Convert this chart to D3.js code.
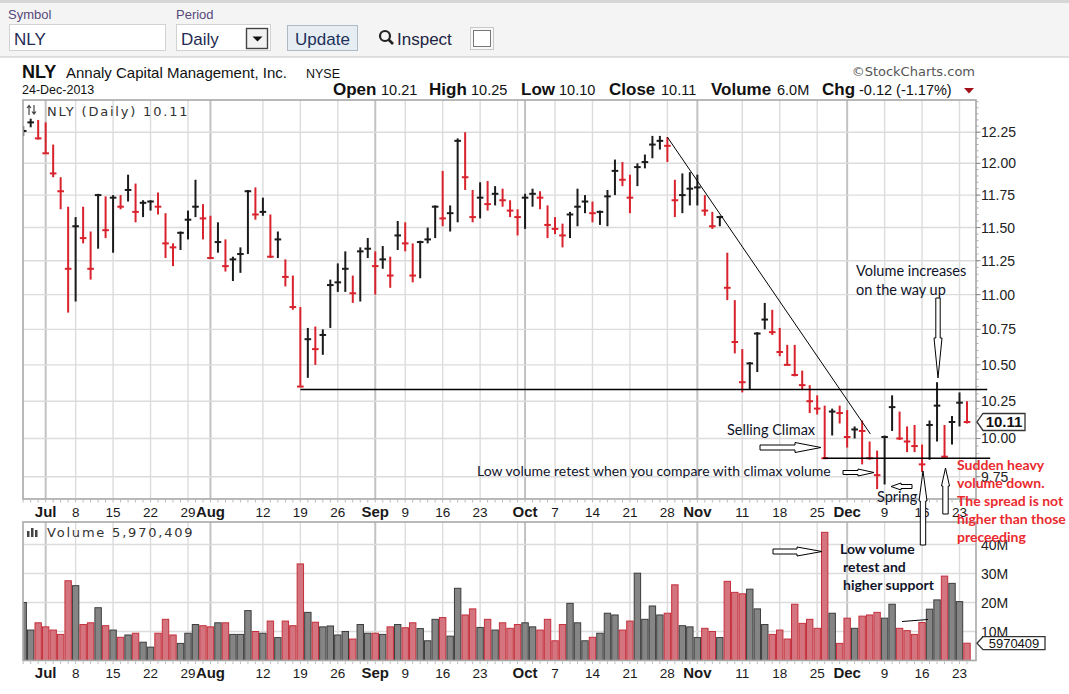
<!DOCTYPE html>
<html>
<head>
<meta charset="utf-8">
<script src="https://cdn.jsdelivr.net/npm/d3@7"></script>
<style>
  body { margin: 0; background: #fff; }
  svg { display: block; }
</style>
</head>
<body>
<svg id="chart"></svg>
<script>
// NLY daily, 26-Jun-2013 .. 24-Dec-2013 (index 0 = 26-Jun)
var highs = [12.30,
  12.36, 12.35, 12.33, 12.15, 11.89, 11.66, 11.58, 11.66, 11.47, 11.76,
  11.74, 11.75, 11.75, 11.91, 11.84, 11.71, 11.71, 11.77, 11.61, 11.38,
  11.47, 11.63, 11.87, 11.68, 11.59, 11.54, 11.41, 11.28, 11.35, 11.79,
  11.81, 11.73, 11.60, 11.47, 11.26, 11.14, 10.91, 10.76, 10.77, 10.75,
  11.11, 11.23, 11.32, 11.14, 11.35, 11.42, 11.32, 11.36, 11.28, 11.55,
  11.54, 11.38, 11.40, 11.50, 11.67, 11.94, 11.67, 12.20, 12.25, 11.79,
  11.85, 11.86, 11.82, 11.80, 11.71, 11.64, 11.76, 11.80, 11.78, 11.67,
  11.58, 11.53, 11.62, 11.80, 11.75, 11.70, 11.63, 11.79, 12.03, 12.01,
  11.91, 12.00, 12.07, 12.22, 12.22, 12.21, 11.87, 11.92, 11.93, 11.91,
  11.75, 11.62, 11.59, 11.31, 10.96, 10.61, 10.52, 10.73, 10.94, 10.89,
  10.76, 10.64, 10.64, 10.46, 10.36, 10.29, 10.22, 10.20, 10.22, 10.19,
  10.08, 10.12, 9.98, 9.92, 10.02, 10.29, 10.18, 10.08, 10.09, 9.96,
  10.12, 10.38, 10.09, 10.15, 10.31, 10.25];

var lows = [12.22,
  12.29, 12.19, 12.08, 11.89, 11.64, 10.87, 10.95, 11.38, 11.11, 11.34,
  11.42, 11.31, 11.64, 11.70, 11.54, 11.58, 11.63, 11.60, 11.27, 11.21,
  11.33, 11.41, 11.58, 11.41, 11.27, 11.31, 11.17, 11.10, 11.16, 11.30,
  11.56, 11.59, 11.27, 11.27, 11.06, 10.89, 10.35, 10.41, 10.50, 10.57,
  10.76, 11.02, 11.02, 10.94, 10.95, 11.27, 11.00, 11.19, 11.05, 11.33,
  11.32, 11.09, 11.12, 11.38, 11.42, 11.51, 11.47, 11.54, 11.79, 11.54,
  11.57, 11.63, 11.67, 11.66, 11.58, 11.44, 11.49, 11.66, 11.64, 11.42,
  11.45, 11.35, 11.42, 11.51, 11.61, 11.54, 11.52, 11.51, 11.75, 11.82,
  11.61, 11.82, 11.96, 12.04, 12.11, 12.01, 11.58, 11.61, 11.67, 11.67,
  11.59, 11.49, 11.51, 10.96, 10.58, 10.31, 10.33, 10.45, 10.75, 10.71,
  10.56, 10.50, 10.42, 10.33, 10.17, 10.16, 9.87, 10.02, 10.10, 9.94,
  10.00, 9.83, 9.86, 9.67, 9.70, 10.05, 9.99, 9.91, 9.91, 9.78,
  9.86, 9.98, 9.87, 9.96, 10.08, 10.10];

var closes = [12.26,
  12.33, 12.20, 12.08, 11.92, 11.78, 11.19, 11.51, 11.42, 11.19, 11.75,
  11.48, 11.73, 11.66, 11.79, 11.62, 11.69, 11.70, 11.66, 11.38, 11.35,
  11.46, 11.56, 11.66, 11.57, 11.27, 11.39, 11.21, 11.26, 11.30, 11.78,
  11.60, 11.62, 11.28, 11.41, 11.13, 10.91, 10.35, 10.68, 10.61, 10.71,
  11.07, 11.09, 11.19, 11.01, 11.32, 11.34, 11.21, 11.26, 11.14, 11.44,
  11.38, 11.14, 11.39, 11.41, 11.66, 11.57, 11.61, 12.18, 11.89, 11.58,
  11.73, 11.68, 11.76, 11.71, 11.63, 11.58, 11.73, 11.76, 11.73, 11.52,
  11.49, 11.44, 11.60, 11.66, 11.70, 11.61, 11.62, 11.74, 11.94, 11.87,
  11.73, 11.97, 12.01, 12.15, 12.18, 12.14, 11.71, 11.75, 11.80, 11.81,
  11.63, 11.51, 11.58, 11.05, 10.66, 10.38, 10.51, 10.72, 10.82, 10.73,
  10.59, 10.50, 10.43, 10.36, 10.25, 10.20, 9.87, 10.18, 10.17, 10.01,
  10.06, 10.05, 9.87, 9.76, 10.01, 10.21, 10.00, 9.98, 9.95, 9.83,
  10.09, 10.22, 9.88, 10.11, 10.24, 10.11];

// volume in millions of shares
var volumes = [20.0,
  10.5, 13.0, 11.6, 10.5, 9.0, 27.5, 25.8, 12.4, 13.0, 18.2,
  12.0, 10.5, 8.0, 8.8, 9.4, 6.3, 4.6, 9.4, 14.2, 8.8,
  5.9, 9.4, 12.4, 12.0, 11.6, 13.0, 13.0, 9.0, 9.0, 17.2,
  10.0, 9.4, 13.6, 7.9, 13.6, 12.0, 33.3, 16.6, 13.2, 11.6,
  11.9, 8.8, 10.0, 7.4, 12.4, 9.4, 9.4, 9.0, 11.6, 12.4,
  11.3, 13.0, 11.0, 6.8, 14.2, 14.8, 8.4, 24.9, 15.7, 17.8,
  11.4, 14.2, 10.5, 13.0, 11.1, 12.4, 13.0, 11.6, 10.5, 14.2,
  6.8, 12.4, 19.7, 13.0, 6.8, 8.0, 9.4, 16.3, 15.7, 10.5,
  13.6, 30.1, 14.2, 18.8, 15.7, 16.3, 26.1, 12.0, 11.6, 7.9,
  11.1, 10.0, 7.9, 27.3, 23.5, 23.0, 24.6, 17.8, 12.4, 9.0,
  10.5, 7.4, 19.4, 12.8, 14.2, 11.1, 44.2, 16.3, 5.9, 14.6,
  11.1, 15.3, 15.7, 16.6, 14.6, 19.4, 11.1, 10.3, 9.0, 13.1,
  17.7, 20.9, 29.1, 26.6, 20.3, 5.97];

// date axis: bar index of each labelled gridline
var tickIdx = [3, 7, 12, 17, 22, 25, 32, 37, 42, 47, 51, 56, 61, 67, 71, 76, 81, 86, 90, 96, 101, 106, 110, 115, 120, 125];
var tickLabels = ["Jul", "8", "15", "22", "29", "Aug", "12", "19", "26", "Sep", "9", "16", "23", "Oct", "7", "14", "21", "28", "Nov", "11", "18", "25", "Dec", "9", "16", "23"];
var extraGridIdx = [66];

var priceTicks = [9.75, 10.00, 10.25, 10.50, 10.75, 11.00, 11.25, 11.50, 11.75, 12.00, 12.25];
var volumeTicks = [10, 20, 30, 40];

var W = 1069, H = 694;
var left = 23, right = 976;
var pTop = 100, pBottom = 499;
var vTop = 522, vBottom = 660.5;

var RED = "#d8222c", BLACK = "#1b1b1b";

var svg = d3.select("#chart").attr("width", W).attr("height", H)
    .style("font-family", "'Liberation Sans', Arial, sans-serif");

var x = d3.scaleLinear().domain([0, 126]).range([23.2, 967]);
var y = d3.scaleLog().domain([9.75, 12.25]).range([476.7, 132.2]);
var yv = d3.scaleLinear().domain([0, 40]).range([vBottom, 544.5]);

function isDown(i) {
    return i > 0 && closes[i] < closes[i - 1];
}

// ---------- toolbar ----------
svg.append("rect").attr("x", 0).attr("y", 0).attr("width", W).attr("height", 57).attr("fill", "#f4f4f4");
svg.append("rect").attr("x", 0).attr("y", 0).attr("width", W).attr("height", 3).attr("fill", "#d6d6d6");
svg.append("line").attr("x1", 0).attr("x2", W).attr("y1", 57).attr("y2", 57).attr("stroke", "#c4c4c4");

svg.append("text").attr("x", 8).attr("y", 19).attr("font-size", 13).attr("fill", "#56487a").text("Symbol");
svg.append("text").attr("x", 176).attr("y", 19).attr("font-size", 13).attr("fill", "#56487a").text("Period");

svg.append("rect").attr("x", 9.5).attr("y", 24.5).attr("width", 156).attr("height", 26)
    .attr("fill", "#fff").attr("stroke", "#d2d2d2");
svg.append("text").attr("x", 14).attr("y", 45).attr("font-size", 17).attr("fill", "#252a55").text("NLY");

svg.append("rect").attr("x", 176.5).attr("y", 24.5).attr("width", 94).attr("height", 26)
    .attr("fill", "#fff").attr("stroke", "#d2d2d2");
svg.append("text").attr("x", 181).attr("y", 45).attr("font-size", 17).attr("fill", "#252a55").text("Daily");
svg.append("rect").attr("x", 246.5).attr("y", 28.5).attr("width", 21).attr("height", 20)
    .attr("fill", "#f2f2f2").attr("stroke", "#444").attr("stroke-width", 1.4);
svg.append("path").attr("d", "M252.5,36.5 L262.5,36.5 L257.5,41.5 Z").attr("fill", "#111");

svg.append("rect").attr("x", 287.5).attr("y", 25.5).attr("width", 70).attr("height", 25)
    .attr("fill", "#e7eef3").attr("stroke", "#aebbc6");
svg.append("text").attr("x", 322.5).attr("y", 45).attr("text-anchor", "middle").attr("font-size", 17)
    .attr("fill", "#20305a").text("Update");

svg.append("circle").attr("cx", 385).attr("cy", 36).attr("r", 5).attr("fill", "none")
    .attr("stroke", "#222").attr("stroke-width", 2.2);
svg.append("line").attr("x1", 388.5).attr("y1", 39.5).attr("x2", 393).attr("y2", 44)
    .attr("stroke", "#222").attr("stroke-width", 2.6);
svg.append("text").attr("x", 397).attr("y", 45).attr("font-size", 17).attr("fill", "#20253f").text("Inspect");
svg.append("rect").attr("x", 470.5).attr("y", 27.5).attr("width", 23).attr("height", 22)
    .attr("fill", "#f8f8f8").attr("stroke", "#c8c8c8");
svg.append("rect").attr("x", 473.5).attr("y", 30.5).attr("width", 17).attr("height", 16)
    .attr("fill", "#fff").attr("stroke", "#777");

// ---------- chart header ----------
var head = svg.append("text").attr("x", 22).attr("y", 78).attr("fill", "#111");
head.append("tspan").attr("font-size", 18).attr("font-weight", "bold").text("NLY");
head.append("tspan").attr("x", 66).attr("font-size", 15).text("Annaly Capital Management, Inc.");
head.append("tspan").attr("x", 306).attr("font-size", 12.5).text("NYSE");

svg.append("text").attr("x", 22).attr("y", 94).attr("font-size", 12.5).attr("fill", "#111").text("24-Dec-2013");

var quote = [
    { label: "Open", value: "10.21", lx: 333, vx: 381 },
    { label: "High", value: "10.25", lx: 429, vx: 471 },
    { label: "Low", value: "10.10", lx: 521, vx: 559 },
    { label: "Close", value: "10.11", lx: 609, vx: 661 },
    { label: "Volume", value: "6.0M", lx: 711, vx: 777 },
    { label: "Chg", value: "-0.12 (-1.17%)", lx: 822, vx: 859 }
];
quote.forEach(function (q) {
    svg.append("text").attr("x", q.lx).attr("y", 95).attr("fill", "#111")
        .attr("font-size", 17).attr("font-weight", "bold").text(q.label);
    svg.append("text").attr("x", q.vx).attr("y", 95).attr("fill", "#111")
        .attr("font-size", 14.5).text(q.value);
});
svg.append("path").attr("d", "M964,88 L974,88 L969,93.5 Z").attr("fill", "#a3101a");

svg.append("text").attr("x", 975).attr("y", 76).attr("text-anchor", "end")
    .attr("font-family", "'DejaVu Sans', Verdana, sans-serif").attr("font-size", 13)
    .attr("fill", "#555").text("\u00a9StockCharts.com");

// ---------- defs / clips ----------
var defs = svg.append("defs");
defs.append("clipPath").attr("id", "clipP").append("rect")
    .attr("x", left).attr("y", pTop).attr("width", right - left).attr("height", pBottom - pTop);
defs.append("clipPath").attr("id", "clipV").append("rect")
    .attr("x", left).attr("y", vTop).attr("width", right - left).attr("height", vBottom - vTop);

// ---------- grids ----------
function drawGrid(top, bottom) {
    var g = svg.append("g");
    extraGridIdx.concat(tickIdx).forEach(function (d) {
        var k = tickIdx.indexOf(d);
        var month = k >= 0 && isNaN(+tickLabels[k]);
        g.append("line")
            .attr("x1", x(d)).attr("x2", x(d)).attr("y1", top).attr("y2", bottom)
            .attr("stroke", month ? "#c2c2c2" : "#dcdcdc")
            .attr("stroke-width", month ? 2 : 1.4);
    });
    return g;
}

drawGrid(pTop, pBottom);
svg.append("g").selectAll("line").data(priceTicks).join("line")
    .attr("x1", left).attr("x2", right)
    .attr("y1", d => y(d)).attr("y2", d => y(d))
    .attr("stroke", "#dcdcdc").attr("stroke-width", 1.4);

drawGrid(vTop, vBottom);
svg.append("g").selectAll("line").data(volumeTicks).join("line")
    .attr("x1", left).attr("x2", right)
    .attr("y1", d => yv(d)).attr("y2", d => yv(d))
    .attr("stroke", "#dcdcdc").attr("stroke-width", 1.4);

// ---------- price bars (HLC) ----------
var idx = d3.range(closes.length);
var bars = svg.append("g").attr("clip-path", "url(#clipP)");
bars.selectAll("line.hl").data(idx).join("line").attr("class", "hl")
    .attr("x1", d => x(d)).attr("x2", d => x(d))
    .attr("y1", d => y(highs[d])).attr("y2", d => y(lows[d]))
    .attr("stroke", d => isDown(d) ? RED : BLACK).attr("stroke-width", 2);
bars.selectAll("line.cl").data(idx).join("line").attr("class", "cl")
    .attr("x1", d => x(d) - 3.3).attr("x2", d => x(d) + 3.3)
    .attr("y1", d => y(closes[d])).attr("y2", d => y(closes[d]))
    .attr("stroke", d => isDown(d) ? RED : BLACK).attr("stroke-width", 2);

// ---------- volume bars ----------
var vb = svg.append("g").attr("clip-path", "url(#clipV)");
vb.selectAll("rect").data(idx).join("rect")
    .attr("x", d => x(d) - 3.2).attr("width", 6.4)
    .attr("y", d => yv(volumes[d])).attr("height", d => yv(0) - yv(volumes[d]))
    .attr("fill", d => isDown(d) ? "#d4747e" : "#858585")
    .attr("stroke", d => isDown(d) ? "#c4303c" : "#3c3c3c").attr("stroke-width", 1);

// ---------- panel frames ----------
[[pTop, pBottom], [vTop, vBottom]].forEach(function (p) {
    svg.append("rect").attr("x", left).attr("y", p[0]).attr("width", right - left).attr("height", p[1] - p[0])
        .attr("fill", "none").attr("stroke", "#a8a8a8").attr("stroke-width", 1.6);
});

// small date ticks under each panel
[pBottom, vBottom].forEach(function (b) {
    svg.append("g").selectAll("line").data(idx).join("line")
        .attr("x1", d => x(d)).attr("x2", d => x(d)).attr("y1", b + 1).attr("y2", b + 3.5)
        .attr("stroke", "#bbb");
});

// date labels
[517, 678].forEach(function (ty) {
    svg.append("g").selectAll("text").data(tickIdx).join("text")
        .attr("x", d => x(d)).attr("y", ty).attr("text-anchor", "middle")
        .attr("font-size", (d, i) => isNaN(+tickLabels[i]) ? 15 : 13.5)
        .attr("font-weight", (d, i) => isNaN(+tickLabels[i]) ? "bold" : "normal")
        .attr("fill", "#1a1a1a")
        .text((d, i) => tickLabels[i]);
});

// right axes
var fmt = d3.format(".2f");
var minor = d3.range(9.70, 12.52, 0.05);
svg.append("g").selectAll("line").data(minor).join("line")
    .attr("x1", right).attr("x2", right + 2.5)
    .attr("y1", d => y(d)).attr("y2", d => y(d)).attr("stroke", "#aaa");
svg.append("g").selectAll("line").data(priceTicks).join("line")
    .attr("x1", right).attr("x2", right + 4.5)
    .attr("y1", d => y(d)).attr("y2", d => y(d)).attr("stroke", "#888");
svg.append("g").selectAll("text").data(priceTicks).join("text")
    .attr("x", 981).attr("y", d => y(d) + 5).attr("font-size", 14).attr("fill", "#222")
    .text(d => fmt(d));

var vminor = d3.range(0, 46, 2);
svg.append("g").selectAll("line").data(vminor).join("line")
    .attr("x1", right).attr("x2", right + 2.5)
    .attr("y1", d => yv(d)).attr("y2", d => yv(d)).attr("stroke", "#aaa")
    .attr("clip-path", "url(#clipV)");
svg.append("g").selectAll("text").data(volumeTicks).join("text")
    .attr("x", 981).attr("y", d => yv(d) + 5).attr("font-size", 14).attr("fill", "#222")
    .text(d => d + "M");

// panel titles
function panelTitle(ty, label, icon) {
    svg.append("text").attr("x", 47).attr("y", ty)
        .attr("font-family", "'DejaVu Sans', Verdana, sans-serif").attr("font-size", 13)
        .attr("letter-spacing", 1.8).attr("fill", "#333").text(label);
    icon(svg.append("g").attr("fill", "#444").attr("stroke", "#444"));
}
panelTitle(116, "NLY (Daily) 10.11", function (g) {
    g.append("path").attr("d", "M29,115 L29,106 M27,108 L29,105.5 L31,108 M34,105 L34,114 M32,111.5 L34,114 L36,111.5")
        .attr("fill", "none").attr("stroke-width", 1.2);
});
panelTitle(537, "Volume 5,970,409", function (g) {
    g.append("rect").attr("x", 27).attr("y", 531).attr("width", 2.5).attr("height", 6).attr("stroke", "none");
    g.append("rect").attr("x", 31).attr("y", 528).attr("width", 2.5).attr("height", 9).attr("stroke", "none");
    g.append("rect").attr("x", 35).attr("y", 530).attr("width", 2.5).attr("height", 7).attr("stroke", "none");
});

// last value tags
function valueTag(cy, w, half, label, bold) {
    svg.append("path")
        .attr("d", "M977," + cy + " L983," + (cy - half) + " L" + (983 + w) + "," + (cy - half) +
            " L" + (983 + w) + "," + (cy + half) + " L983," + (cy + half) + " Z")
        .attr("fill", "#fff").attr("stroke", "#333").attr("stroke-width", 1.3);
    svg.append("text").attr("x", 983 + w / 2).attr("y", cy + (bold ? 5.5 : 4.5)).attr("text-anchor", "middle")
        .attr("font-size", bold ? 15 : 13).attr("font-weight", bold ? "bold" : "normal")
        .attr("fill", "#111").text(label);
}
valueTag(y(closes[closes.length - 1]), 42, 8.5, fmt(closes[closes.length - 1]), true);
valueTag(yv(volumes[volumes.length - 1]), 62, 6.5, "5970409", false);

// ---------- drawn annotations ----------
var trendLine = [[86, 12.21], [113.1, 10.03]];
var supportLine = [[37, 10.33], [128.7, 10.33]];
var retestLine = [[106.8, 9.87], [129.1, 9.87]];
[trendLine, supportLine, retestLine].forEach(function (l) {
    svg.append("line")
        .attr("x1", x(l[0][0])).attr("y1", y(l[0][1]))
        .attr("x2", x(l[1][0])).attr("y2", y(l[1][1]))
        .attr("stroke", "#000").attr("stroke-width", l === trendLine ? 1 : 1.3);
});

function blockArrow(a) {
    var dx = a.x2 - a.x1, dy = a.y2 - a.y1, len = Math.sqrt(dx * dx + dy * dy);
    var ux = dx / len, uy = dy / len, nx = -uy, ny = ux;
    var bx = a.x2 - ux * a.hl, by = a.y2 - uy * a.hl;
    var pts = [
        [a.x1 + nx * a.sw, a.y1 + ny * a.sw],
        [bx + nx * a.sw, by + ny * a.sw],
        [bx + nx * a.hw, by + ny * a.hw],
        [a.x2, a.y2],
        [bx - nx * a.hw, by - ny * a.hw],
        [bx - nx * a.sw, by - ny * a.sw],
        [a.x1 - nx * a.sw, a.y1 - ny * a.sw]
    ];
    svg.append("polygon").attr("points", pts.map(p => p.join(",")).join(" "))
        .attr("fill", "#fff").attr("stroke", "#000").attr("stroke-width", 1);
}
var arrows = [
    { x1: 938, y1: 298, x2: 938, y2: 378, sw: 2.2, hw: 4, hl: 40 },
    { x1: 760, y1: 447.5, x2: 821, y2: 447.5, sw: 2.5, hw: 5, hl: 26 },
    { x1: 843, y1: 472.5, x2: 874, y2: 472.5, sw: 2, hw: 3.5, hl: 16 },
    { x1: 912, y1: 486.5, x2: 891, y2: 486.5, sw: 2, hw: 3.5, hl: 10 },
    { x1: 923, y1: 545, x2: 923, y2: 471, sw: 2.7, hw: 4, hl: 30 },
    { x1: 945.5, y1: 514, x2: 945.5, y2: 468, sw: 2.7, hw: 4, hl: 18 },
    { x1: 773, y1: 551.5, x2: 822, y2: 551.5, sw: 2.5, hw: 4.5, hl: 25 }
];
arrows.forEach(blockArrow);
svg.append("line").attr("x1", 902).attr("y1", 621.5).attr("x2", 928).attr("y2", 619.5)
    .attr("stroke", "#000").attr("stroke-width", 1);

var notes = [
    { x: 856, y: 276, size: 14.5, text: "Volume increases" },
    { x: 856, y: 295, size: 14.5, text: "on the way up" },
    { x: 727, y: 435, size: 14.5, text: "Selling Climax" },
    { x: 477, y: 476, size: 14, text: "Low volume retest when you compare with climax volume" },
    { x: 877, y: 502, size: 14.5, text: "Spring" }
];
svg.append("g").selectAll("text").data(notes).join("text")
    .attr("x", d => d.x).attr("y", d => d.y)
    .attr("font-family", "Lato, 'Open Sans', sans-serif").attr("font-size", d => d.size)
    .attr("fill", "#10142a").text(d => d.text);

var redNotes = ["Sudden heavy", "volume down.", "The spread is not", "higher than those", "preceeding"];
svg.append("g").selectAll("text").data(redNotes).join("text")
    .attr("x", 957).attr("y", (d, i) => 470 + i * 18)
    .attr("font-family", "Lato, 'Open Sans', sans-serif").attr("font-size", 14).attr("font-weight", "bold")
    .attr("fill", "#ea2a2e").text(d => d);

var volNotes = ["Low volume", "retest and", "higher support"];
svg.append("g").selectAll("text").data(volNotes).join("text")
    .attr("x", (d, i) => i === 0 ? 840 : 843).attr("y", (d, i) => 554 + i * 18)
    .attr("font-family", "Lato, 'Open Sans', sans-serif").attr("font-size", 14).attr("font-weight", "bold")
    .attr("fill", "#10142a").text(d => d);
</script>
</body>
</html>
